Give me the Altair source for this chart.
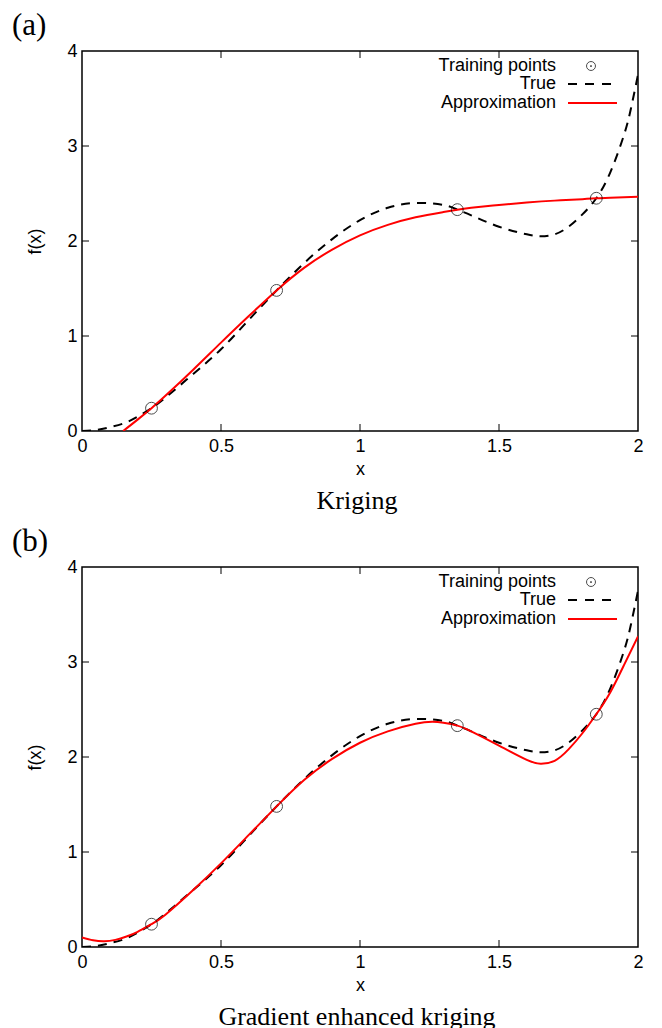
import altair as alt
import pandas as pd

# ---- data ----
x_true = [0.0, 0.05, 0.1, 0.15, 0.2, 0.25, 0.3, 0.4, 0.5, 0.6, 0.7, 0.8, 0.9, 1.0, 1.1, 1.2, 1.3,
          1.35, 1.4, 1.5, 1.6, 1.65, 1.7, 1.75, 1.8, 1.85, 1.9, 1.95, 1.975, 2.0]
y_true = [0.0, 0.01, 0.04, 0.08, 0.15, 0.24, 0.35, 0.6, 0.86, 1.17, 1.48, 1.77, 2.02, 2.22, 2.35, 2.40, 2.38,
          2.33, 2.27, 2.15, 2.07, 2.05, 2.07, 2.15, 2.28, 2.45, 2.72, 3.12, 3.4, 3.75]

x_krig = [0.148, 0.2, 0.25, 0.3, 0.4, 0.5, 0.6, 0.7, 0.8, 0.9, 1.0, 1.1, 1.2, 1.3, 1.35, 1.4, 1.5,
          1.6, 1.7, 1.8, 1.85, 1.9, 2.0]
y_krig = [0.0, 0.12, 0.24, 0.37, 0.645, 0.93, 1.21, 1.48, 1.72, 1.91, 2.06, 2.17, 2.25, 2.305, 2.33, 2.35, 2.38,
          2.405, 2.425, 2.44, 2.45, 2.455, 2.465]

x_gek = [0.0, 0.04, 0.08, 0.12, 0.16, 0.2, 0.25, 0.3, 0.4, 0.5, 0.6, 0.7, 0.8, 0.9, 1.0, 1.1, 1.2, 1.26,
         1.3, 1.35, 1.4, 1.5, 1.6, 1.65, 1.7, 1.75, 1.8, 1.85, 1.9, 1.95, 2.0]
y_gek = [0.10, 0.07, 0.06, 0.075, 0.11, 0.16, 0.24, 0.34, 0.6, 0.88, 1.18, 1.48, 1.76, 1.98, 2.15, 2.27, 2.35, 2.37,
         2.36, 2.33, 2.27, 2.12, 1.97, 1.93, 1.96, 2.08, 2.25, 2.45, 2.68, 2.97, 3.27]

x_train = [0.25, 0.7, 1.35, 1.85]
y_train = [0.24, 1.48, 2.33, 2.45]

x_axis_values = [0, 0.5, 1, 1.5, 2]
y_axis_values = [0, 1, 2, 3, 4]
inner_x_ticks = [0.5, 1, 1.5]
inner_y_ticks = [1, 2, 3]

legend_labels = ["Training points", "True", "Approximation"]
panel_tags = ["(a)", "(b)"]
captions = ["Kriging", "Gradient enhanced kriging"]

# ---- layout / style ----
W, H = 556, 380
SANS = "Liberation Sans"
SERIF = "Liberation Serif"
TICK = 7
FS = 18


def panel(tag, caption, xa, ya):
    xs = alt.Scale(domain=[0, 2], nice=False, zero=False)
    ys = alt.Scale(domain=[0, 4], nice=False, zero=False)
    xenc = alt.X("x:Q", scale=xs, axis=alt.Axis(
        values=x_axis_values, format="~g", title="x", domain=False, ticks=False, tickSize=0,
        grid=False, labelFont=SANS, labelFontSize=FS, labelPadding=6, labelColor="black",
        labelFlush=False, labelOverlap=False, titleFont=SANS, titleFontSize=FS,
        titleFontWeight="normal", titleColor="black", titlePadding=5))
    yenc = alt.Y("y:Q", scale=ys, axis=alt.Axis(
        values=y_axis_values, format="~g", title="f(x)", domain=False, ticks=False, tickSize=0,
        grid=False, labelFont=SANS, labelFontSize=FS, labelPadding=5, labelColor="black",
        labelFlush=False, labelOverlap=False, titleFont=SANS, titleFontSize=FS,
        titleFontWeight="normal", titleColor="black", titlePadding=22))

    true_df = pd.DataFrame({"x": x_true, "y": y_true})
    appr_df = pd.DataFrame({"x": xa, "y": ya})
    train_df = pd.DataFrame({"x": x_train, "y": y_train})
    xt_df = pd.DataFrame({"x": inner_x_ticks})
    yt_df = pd.DataFrame({"y": inner_y_ticks})
    one = pd.DataFrame({"k": [0]})

    true_line = alt.Chart(true_df).mark_line(
        color="black", strokeWidth=2, strokeDash=[9, 7], clip=True, interpolate="natural"
    ).encode(x=xenc, y=yenc)
    appr_line = alt.Chart(appr_df).mark_line(
        color="#ff0000", strokeWidth=2, clip=True, interpolate="natural"
    ).encode(x=xenc, y=yenc)
    pts = alt.Chart(train_df).mark_point(
        shape="circle", filled=False, size=140, color="black", strokeWidth=1
    ).encode(x=xenc, y=yenc)

    tb = alt.Chart(xt_df).mark_rule(color="black", strokeWidth=1).encode(
        x=xenc, y=alt.value(H), y2=alt.value(H - TICK))
    tt = alt.Chart(xt_df).mark_rule(color="black", strokeWidth=1).encode(
        x=xenc, y=alt.value(0), y2=alt.value(TICK))
    tl = alt.Chart(yt_df).mark_rule(color="black", strokeWidth=1).encode(
        y=yenc, x=alt.value(0), x2=alt.value(TICK))
    tr = alt.Chart(yt_df).mark_rule(color="black", strokeWidth=1).encode(
        y=yenc, x=alt.value(W - TICK), x2=alt.value(W))

    leg_y = [15, 33, 52]
    leg_txt = [
        alt.Chart(one).mark_text(text=lab, font=SANS, fontSize=FS, align="right",
                                 baseline="middle", color="black").encode(
            x=alt.value(474), y=alt.value(yy))
        for lab, yy in zip(legend_labels, leg_y)
    ]
    leg_circ = alt.Chart(one).mark_point(shape="circle", filled=False, size=80,
                                         color="black", strokeWidth=1).encode(
        x=alt.value(509), y=alt.value(leg_y[0]))
    leg_dot = alt.Chart(one).mark_point(shape="circle", filled=True, size=3,
                                        color="black", opacity=1).encode(
        x=alt.value(509), y=alt.value(leg_y[0]))
    leg_dash = alt.Chart(one).mark_rule(color="black", strokeWidth=2, strokeDash=[9, 8]).encode(
        x=alt.value(486), x2=alt.value(530), y=alt.value(leg_y[1]))
    leg_red = alt.Chart(one).mark_rule(color="#ff0000", strokeWidth=2).encode(
        x=alt.value(486), x2=alt.value(535), y=alt.value(leg_y[2]))

    tag_txt = alt.Chart(one).mark_text(text=tag, font=SERIF, fontSize=31, align="left",
                                       baseline="middle", color="black").encode(
        x=alt.value(-70), y=alt.value(-25))
    cap_txt = alt.Chart(one).mark_text(text=caption, font=SERIF, fontSize=26, align="center",
                                       baseline="middle", color="black").encode(
        x=alt.value(W / 2 - 3), y=alt.value(H + 70))

    return alt.layer(
        true_line, appr_line, pts, tb, tt, tl, tr,
        *leg_txt, leg_circ, leg_dot, leg_dash, leg_red, tag_txt, cap_txt
    ).properties(width=W, height=H)


p1 = panel(panel_tags[0], captions[0], x_krig, y_krig)
p2 = panel(panel_tags[1], captions[1], x_gek, y_gek)

chart = alt.vconcat(p1, p2, spacing=10).properties(
    padding={"left": 3, "top": 1, "right": 5, "bottom": 5}
).configure_view(stroke="black", strokeWidth=1.5)

chart.save("out.html", embed_options={"renderer": "svg", "actions": False})
